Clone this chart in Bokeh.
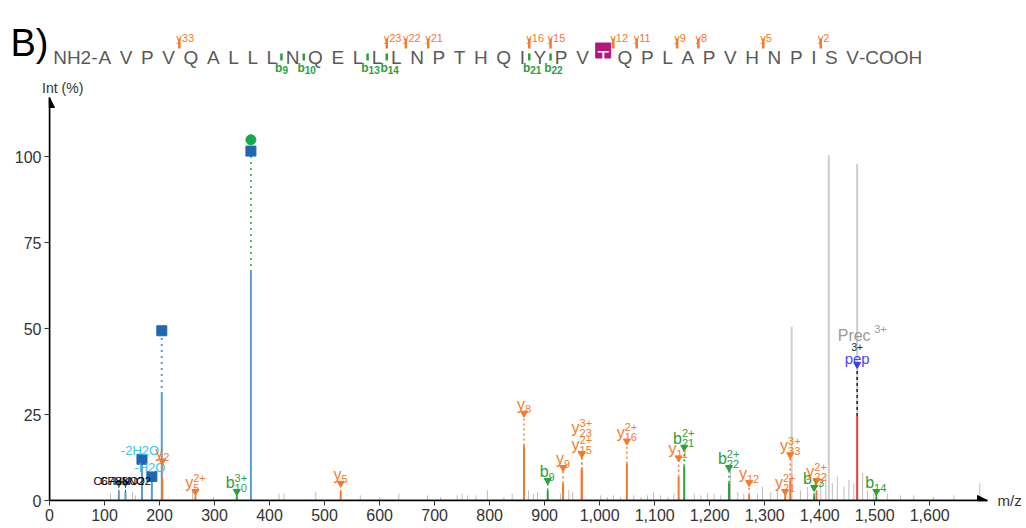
from bokeh.plotting import figure
from bokeh.models import (Range1d, Arrow, NormalHead, NumeralTickFormatter, FixedTicker,
                          ColumnDataSource, LinearAxis)
from bokeh.layouts import column
from bokeh.embed import file_html
from bokeh.resources import INLINE
from bokeh.core.properties import value

# ---------------- data ----------------
panel_tag = "B)"
sequence = list("AVPVQALLLNQELLLNPTHQIYPVTQPLAPVHNPISV")
seq_y_ions = [33, 23, 22, 21, 16, 15, 12, 11, 9, 8, 5, 2]
seq_b_ions = [9, 10, 13, 14, 21, 22]
modified_residue = 25  # 1-based index of the highlighted T

x_ticks = list(range(0, 1700, 100))
y_ticks = [0, 25, 50, 75, 100]
x_title = "m/z"
y_title = "Int (%)"

noise_mz = [111, 151, 156, 260, 298, 417, 426, 484, 565, 600, 635, 687, 711, 741, 750, 760,
            775, 796, 826, 841, 871, 880, 887, 929, 944, 951, 1002, 1014, 1025, 1038, 1062,
            1075, 1087, 1098, 1111, 1124, 1135, 1172, 1184, 1196, 1208, 1220, 1238, 1251,
            1262, 1287, 1296, 1311, 1323, 1338, 1365, 1378, 1402, 1411, 1423, 1432, 1444,
            1453, 1462, 1478, 1487, 1498, 1523, 1547, 1571, 1607, 1644, 1691]
noise_int = [2, 2.5, 1.5, 3, 1, 2, 2, 2.5, 1.5, 1, 2, 1.5, 1, 1.5, 2, 1.5,
             1.5, 3, 1, 2, 3, 2, 2.5, 2, 3, 2.5, 1.5, 1, 1.5, 1, 1.5,
             1, 1.5, 2.5, 1.5, 1, 2, 2, 1.5, 2, 2, 1.5, 9, 2.5,
             2, 2, 4, 2.5, 3.5, 3, 3, 4, 6, 8, 5, 7, 4,
             6, 5, 8, 3, 2, 2, 1.5, 1.5, 1, 1.5, 5]

grey_mz = [1349.0, 1416.5, 1468.1]
grey_int = [50.6, 100.5, 98.0]

oxonium_mz = [126.1, 138.1, 168.1, 186.1, 204.1, 366.1]
oxonium_int = [2.5, 2.5, 11.0, 5.5, 31.0, 66.5]
square_mz = [168.1, 186.1, 204.1, 366.1]
square_int = [12.0, 7.0, 49.4, 101.7]
circle_mz = [366.1]
circle_int = [105.0]
formula_mz = [126.1, 138.1]
formula_mark = [5.0, 5.0]
formula_text = ["C6H8NO2", "C7H8NO2"]
loss_mz = [168.1, 186.1]
loss_anchor = [12.0, 7.0]
loss_text = ["-2H2O", "-H2O"]

frag_ion = ["y", "y", "b", "y", "y", "b", "y", "y", "y", "y", "y", "b", "b", "y", "y", "y", "b", "y", "b"]
frag_sub = ["2", "5", "10", "5", "8", "9", "9", "15", "23", "16", "11", "21", "22", "12", "21", "33", "13", "22", "14"]
frag_sup = ["", "2+", "3+", "", "", "", "", "2+", "3+", "2+", "", "2+", "2+", "", "2+", "3+", "", "2+", ""]
frag_mz = [205.1, 265.2, 340.5, 529.3, 862.5, 905.6, 933.5, 967.5, 967.5, 1049.5, 1143.6,
           1153.7, 1235.2, 1271.7, 1337.2, 1346.4, 1389.8, 1394.2, 1502.9]
frag_int = [6.3, 1.0, 1.0, 2.5, 16.0, 2.9, 5.0, 9.0, 9.0, 10.7, 6.9,
            10.0, 5.2, 1.7, 1.5, 5.8, 1.5, 2.5, 1.0]
frag_mark = [11.5, 2.6, 2.6, 5.0, 25.4, 5.8, 9.6, 13.6, 13.6, 17.3, 12.4,
             15.5, 9.6, 5.2, 2.6, 13.3, 3.8, 5.8, 2.6]
frag_row = [0, 0, 0, 0, 0, 0, 0, 0, 1, 0, 0, 0, 0, 0, 0, 0, 0, 0, 0]

prec_mz = [1468.1]
prec_int = [24.6]
prec_mark = [39.6]

# ---------------- styles ----------------
FONT = "Liberation Sans"
ORANGE = "#f47a2a"
GREEN = "#2aa13a"
LBLUE = "#5b9bd5"
DBLUE = "#1f67b1"
CYAN = "#3cc3f0"
COLS = {"y": ORANGE, "b": GREEN}

W, H_HEAD = 1024, 76
FRAME_L, FRAME_R, FRAME_TOP, FRAME_H, BOTTOM = 49, 987, 94, 406, 26
XMAX, YMAX = 1705, 117.3
PX = YMAX / FRAME_H  # data units per pixel
H_MAIN = (FRAME_TOP - H_HEAD) + FRAME_H + BOTTOM

# ---------------- header (sequence); coordinates are page pixels ----------------
h = figure(width=W, height=H_HEAD, x_range=Range1d(0, W), y_range=Range1d(H_HEAD, 0),
           output_backend="svg", toolbar_location=None, x_axis_type=None, y_axis_type=None,
           min_border=0)
if "frame_align" in h.properties():
    h.frame_align = False
h.xgrid.visible = False
h.ygrid.visible = False
h.outline_line_color = None

h.text(x=[10], y=[42], text=[panel_tag], text_font=value(FONT), text_font_size="38px",
       text_color="black", text_baseline="alphabetic")

em = {"A": .667, "V": .667, "P": .667, "Q": .778, "L": .556, "N": .722, "E": .667,
      "T": .611, "H": .722, "I": .278, "Y": .667, "S": .667}
SEQ_FS, GAP, LEFT, BASE = 19, 8.6, 98, 57
widths = [em[a] * SEQ_FS for a in sequence]
lefts = []
xx = LEFT
for w in widths:
    lefts.append(xx)
    xx += w + GAP
centers = [l + w / 2 for l, w in zip(lefts, widths)]
seq_col = ["white" if i + 1 == modified_residue else "#595959" for i in range(len(sequence))]

tc = centers[modified_residue - 1]
h.rect(x=[tc], y=[50], width=15, height=15, fill_color="#b5177f", line_color="#b5177f")
h.text(x=centers, y=[BASE] * len(sequence), text=sequence, text_color=seq_col,
       text_font=value(FONT), text_font_size=f"{SEQ_FS}px", text_align="center",
       text_baseline="alphabetic")
h.text(x=[LEFT - 1], y=[BASE], text=["NH2-"], text_font=value(FONT), text_font_size=f"{SEQ_FS}px",
       text_color="#595959", text_align="right", text_baseline="alphabetic")
h.text(x=[lefts[-1] + widths[-1]], y=[BASE], text=["-COOH"], text_font=value(FONT),
       text_font_size=f"{SEQ_FS}px", text_color="#595959", text_align="left",
       text_baseline="alphabetic")

def gap_x(k):
    return lefts[k - 1] + widths[k - 1] + GAP / 2

n_res = len(sequence)
ym = [gap_x(n_res - n) for n in seq_y_ions]
h.segment(x0=ym, y0=[38] * len(ym), x1=ym, y1=[48] * len(ym), line_color=ORANGE, line_width=2.5)
h.text(x=ym, y=[37] * len(ym), text=[f"y{n}" for n in seq_y_ions], text_color=ORANGE,
       text_font=value(FONT), text_font_size="11px", text_align="left", text_baseline="alphabetic",
       x_offset=-3)
bm = [gap_x(n) for n in seq_b_ions]
h.segment(x0=bm, y0=[53] * len(bm), x1=bm, y1=[60] * len(bm), line_color=GREEN, line_width=2.5)
h.text(x=bm, y=[67] * len(bm), text=["b"] * len(bm), text_color=GREEN, text_font=value(FONT),
       text_font_size="12px", text_align="right", text_baseline="alphabetic", x_offset=1,
       text_font_style="bold")
h.text(x=bm, y=[69] * len(bm), text=[str(n) for n in seq_b_ions], text_color=GREEN,
       text_font=value(FONT), text_font_size="10px", text_align="left", text_baseline="alphabetic",
       x_offset=1, text_font_style="bold")

# ---------------- main spectrum ----------------
p = figure(width=W, height=H_MAIN, x_range=Range1d(0, XMAX), y_range=Range1d(0, YMAX),
           output_backend="svg", toolbar_location=None,
           min_border_left=FRAME_L, min_border_right=W - FRAME_R,
           min_border_top=FRAME_TOP - H_HEAD, min_border_bottom=BOTTOM)
if "frame_align" in p.properties():
    p.frame_align = False
p.xgrid.visible = False
p.ygrid.visible = False
p.outline_line_color = None
for ax in (p.xaxis, p.yaxis):
    ax.axis_line_color = "black"
    ax.axis_line_width = 1.5
    ax.major_tick_line_color = "#333333"
    ax.major_tick_out = 5
    ax.major_tick_in = 0
    ax.minor_tick_line_color = None
    ax.major_label_text_font = FONT
    ax.major_label_text_font_size = "16px"
    ax.major_label_text_color = "#333333"
    ax.major_label_standoff = 3
p.xaxis.ticker = FixedTicker(ticks=x_ticks)
p.xaxis.formatter = NumeralTickFormatter(format="0,0")
p.yaxis.ticker = FixedTicker(ticks=y_ticks)

# axis titles as single-tick side axes (kept outside the frame without clipping)
mz_axis = LinearAxis(ticker=FixedTicker(ticks=[0]), major_label_overrides={0: x_title},
                     axis_line_color=None, major_tick_line_color=None, minor_tick_line_color=None,
                     major_tick_out=0, major_label_standoff=10, major_label_text_font=FONT,
                     major_label_text_font_size="15px", major_label_text_color="#333333")
p.add_layout(mz_axis, "right")
int_axis = LinearAxis(ticker=FixedTicker(ticks=[24]), major_label_overrides={24: y_title},
                      axis_line_color=None, major_tick_line_color=None, minor_tick_line_color=None,
                      major_tick_out=0, major_label_standoff=2, major_label_text_font=FONT,
                      major_label_text_font_size="14px", major_label_text_color="#333333")
p.add_layout(int_axis, "above")

# noise
p.segment(x0=noise_mz, y0=0, x1=noise_mz, y1=noise_int, line_color="#bdbdbd", line_width=1)
p.segment(x0=grey_mz, y0=0, x1=grey_mz, y1=grey_int, line_color="#cdcdcd", line_width=2)

# oxonium / glycan ions
p.segment(x0=oxonium_mz, y0=0, x1=oxonium_mz, y1=oxonium_int, line_color=LBLUE, line_width=2)
p.segment(x0=[square_mz[2]], y0=[oxonium_int[4]], x1=[square_mz[2]], y1=[square_int[2]],
          line_color=LBLUE, line_width=2, line_dash="2 4")
p.segment(x0=[square_mz[3]], y0=[oxonium_int[5]], x1=[square_mz[3]], y1=[square_int[3]],
          line_color=GREEN, line_width=1.5, line_dash="2 4")
p.segment(x0=[square_mz[0], square_mz[1]], y0=[oxonium_int[2], oxonium_int[3]],
          x1=[square_mz[0], square_mz[1]], y1=[square_int[0], square_int[1]],
          line_color=LBLUE, line_width=2)
p.scatter(x=square_mz, y=square_int, marker="square", size=10, fill_color=DBLUE, line_color=DBLUE)
p.scatter(x=circle_mz, y=circle_int, marker="circle", size=10, fill_color="#19a84a",
          line_color="#19a84a")
p.segment(x0=formula_mz, y0=[2.5, 2.5], x1=formula_mz, y1=formula_mark, line_color="#333333",
          line_width=1, line_dash="2 2")
p.scatter(x=formula_mz, y=formula_mark, marker="inverted_triangle", size=6, color=DBLUE)
p.text(x=formula_mz, y=[m + 2 * PX for m in formula_mark], text=formula_text, text_color="black",
       text_font=value(FONT), text_font_size="11px", text_align="center", text_baseline="alphabetic")
p.text(x=loss_mz, y=[m + 9 * PX for m in loss_anchor], text=loss_text, text_color=CYAN,
       text_font=value(FONT), text_font_size="13px", text_align="center", text_baseline="alphabetic",
       x_offset=-2)

# fragment ions
fcol = [COLS[t] for t in frag_ion]
p.segment(x0=frag_mz, y0=0, x1=frag_mz, y1=frag_int, line_color=fcol, line_width=2)
p.segment(x0=frag_mz, y0=frag_int, x1=frag_mz, y1=frag_mark, line_color=fcol, line_width=1.5,
          line_dash="2 3")
p.scatter(x=frag_mz, y=frag_mark, marker="inverted_triangle", size=7, color=fcol)

offs = [(8 - 6.2 * max(len(s), len(u))) / 2 for s, u in zip(frag_sub, frag_sup)]
src = ColumnDataSource(dict(
    x=frag_mz, col=fcol, ion=frag_ion, sub=frag_sub, sup=frag_sup, off=offs,
    ly=[m + (9 + 17 * r) * PX for m, r in zip(frag_mark, frag_row)],
    sy=[m + (4 + 17 * r) * PX for m, r in zip(frag_mark, frag_row)],
    uy=[m + (14 + 17 * r) * PX for m, r in zip(frag_mark, frag_row)],
))
p.text(x="x", y="ly", text="ion", source=src, text_color="col", text_font=value(FONT),
       text_font_size="16px", text_align="right", text_baseline="alphabetic", x_offset="off")
p.text(x="x", y="sy", text="sub", source=src, text_color="col", text_font=value(FONT),
       text_font_size="11px", text_align="left", text_baseline="alphabetic", x_offset="off")
p.text(x="x", y="uy", text="sup", source=src, text_color="col", text_font=value(FONT),
       text_font_size="11px", text_align="left", text_baseline="alphabetic", x_offset="off")

# precursor
p.segment(x0=prec_mz, y0=0, x1=prec_mz, y1=prec_int, line_color="#e8463c", line_width=2)
p.segment(x0=prec_mz, y0=prec_int, x1=prec_mz, y1=prec_mark, line_color="#222222",
          line_width=1.5, line_dash="3 3")
p.scatter(x=prec_mz, y=prec_mark, marker="inverted_triangle", size=7, color="#3b3bf0")
p.text(x=prec_mz, y=[prec_mark[0] + 6 * PX], text=["pep"], text_color="#4646f0",
       text_font=value(FONT), text_font_size="15px", text_align="center", text_baseline="alphabetic")
p.text(x=prec_mz, y=[prec_mark[0] + 18 * PX], text=["3+"], text_color="#222222",
       text_font=value(FONT), text_font_size="10px", text_align="center", text_baseline="alphabetic")
p.text(x=prec_mz, y=[prec_mark[0] + 29 * PX], text=["Prec"], text_color="#9a9a9a",
       text_font=value(FONT), text_font_size="16px", text_align="center", text_baseline="alphabetic",
       x_offset=-3)
p.text(x=prec_mz, y=[prec_mark[0] + 36 * PX], text=["3+"], text_color="#9a9a9a",
       text_font=value(FONT), text_font_size="11px", text_align="left", text_baseline="alphabetic",
       x_offset=17)

# axis arrows
p.add_layout(Arrow(end=NormalHead(size=10, fill_color="black", line_color="black"),
                   x_start=0, y_start=0, x_end=0, y_end=YMAX, line_width=1.5, line_color="black"))
p.add_layout(Arrow(end=NormalHead(size=10, fill_color="black", line_color="black"),
                   x_start=0, y_start=0, x_end=XMAX, y_end=0, line_width=1.5, line_color="black"))

layout = column(h, p)
open("out.html", "w").write(file_html(layout, INLINE))
